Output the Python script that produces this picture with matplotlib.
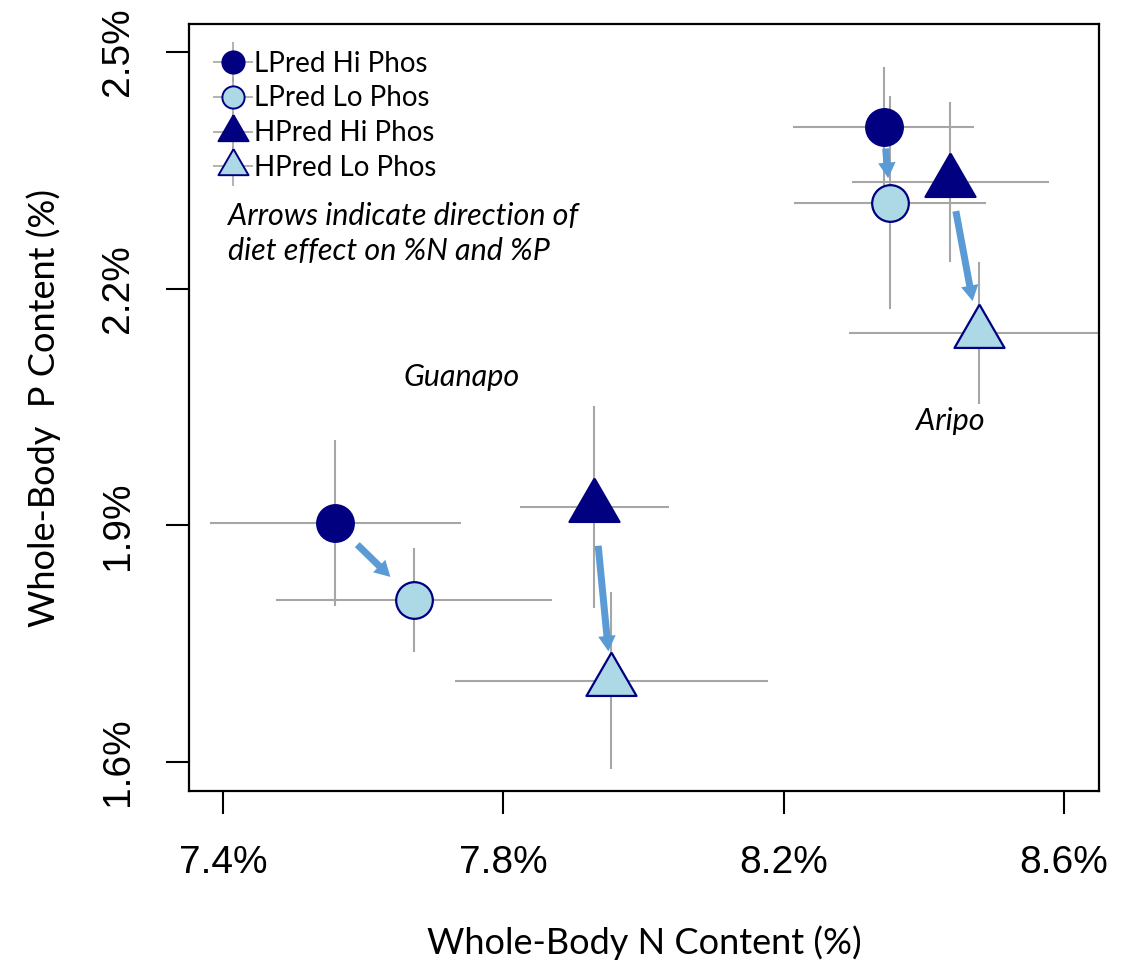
import matplotlib.pyplot as plt
from matplotlib.lines import Line2D
from matplotlib.legend_handler import HandlerTuple

# Whole-body N and P content (%), order: Guanapo, Aripo
sites = ['Guanapo', 'Aripo']

lpred_hi_n = [7.560, 8.343]
lpred_hi_p = [1.903, 2.405]
lpred_hi_n_err = [0.179, 0.129]
lpred_hi_p_err = [0.105, 0.076]

lpred_lo_n = [7.673, 8.352]
lpred_lo_p = [1.805, 2.309]
lpred_lo_n_err = [0.197, 0.137]
lpred_lo_p_err = [0.066, 0.135]

hpred_hi_n = [7.930, 8.438]
hpred_hi_p = [1.923, 2.335]
hpred_hi_n_err = [0.106, 0.141]
hpred_hi_p_err = [0.128, 0.101]

hpred_lo_n = [7.954, 8.478]
hpred_lo_p = [1.703, 2.144]
hpred_lo_n_err = [0.223, 0.185]
hpred_lo_p_err = [0.112, 0.090]

group_labels = ['LPred Hi Phos', 'LPred Lo Phos', 'HPred Hi Phos', 'HPred Lo Phos']
x_ticks = [7.4, 7.8, 8.2, 8.6]
y_ticks = [1.6, 1.9, 2.2, 2.5]

NAVY = '#000080'
LIGHT = '#ADD8E6'
GREY = '#a6a6a6'
ARROW = '#5B9BD5'
TRI = [(0, 1), (-0.866, -0.5), (0.866, -0.5), (0, 1)]

fig = plt.figure(figsize=(11.27, 9.6), dpi=100)
ax = fig.add_axes([0.1677, 0.176, 0.8075, 0.799])

groups = [
    (lpred_hi_n, lpred_hi_p, lpred_hi_n_err, lpred_hi_p_err, 'o', NAVY, 26.4),
    (lpred_lo_n, lpred_lo_p, lpred_lo_n_err, lpred_lo_p_err, 'o', LIGHT, 26.4),
    (hpred_hi_n, hpred_hi_p, hpred_hi_n_err, hpred_hi_p_err, TRI, NAVY, 41.6),
    (hpred_lo_n, hpred_lo_p, hpred_lo_n_err, hpred_lo_p_err, TRI, LIGHT, 41.6),
]

# error bars first, markers on top
for n, p, ne, pe, *_ in groups:
    ax.errorbar(n, p, xerr=ne, yerr=pe, fmt='none', ecolor=GREY,
                elinewidth=1.5, capsize=0, zorder=1)

handles = []
leg_sizes = [16, 16, 25, 25]
for (n, p, ne, pe, mk, fc, ms), lms in zip(groups, leg_sizes):
    ax.plot(n, p, linestyle='none', marker=mk, markersize=ms,
            markerfacecolor=fc, markeredgecolor=NAVY, markeredgewidth=1.6, zorder=3)
    cross = Line2D([], [], linestyle='none', marker='+', markersize=29,
                   markeredgecolor=GREY, markeredgewidth=1.2)
    mark = Line2D([], [], linestyle='none', marker=mk, markersize=lms,
                  markerfacecolor=fc, markeredgecolor=NAVY, markeredgewidth=1.4)
    handles.append((cross, mark))

# diet-effect arrows (Hi Phos -> Lo Phos)
arrow_pairs = [
    (lpred_hi_n, lpred_hi_p, lpred_lo_n, lpred_lo_p, [(22.3, 24.1), (15.6, 17.7)]),
    (hpred_hi_n, hpred_hi_p, hpred_lo_n, hpred_lo_p, [(27.9, 21.2), (21.2, 23.3)]),
]
for n0, p0, n1, p1, shrinks in arrow_pairs:
    for i in range(len(sites)):
        ax.annotate('', xy=(n1[i], p1[i]), xytext=(n0[i], p0[i]),
                    arrowprops=dict(arrowstyle='simple,head_length=0.8,head_width=0.9,tail_width=0.36',
                                    mutation_scale=14, fc=ARROW, ec=ARROW, lw=0,
                                    shrinkA=shrinks[i][0], shrinkB=shrinks[i][1]),
                    zorder=2)

tick_font = {'family': ['Liberation Sans Narrow', 'Liberation Sans'], 'fontsize': 28}
ax.set_xlim(7.3515, 8.650)
ax.set_ylim(1.5632, 2.5355)
ax.set_xticks(x_ticks)
ax.set_yticks(y_ticks)
ax.set_xticklabels([f'{v:.1f}%' for v in x_ticks], **tick_font)
ax.set_yticklabels([f'{v:.1f}%' for v in y_ticks], rotation=90, va='center', **tick_font)
ax.tick_params(axis='both', length=16.5, width=1.5, pad=22)
for s in ax.spines.values():
    s.set_linewidth(1.6)

ax.set_xlabel('Whole-Body N Content (%)', fontsize=26, family='Lato', labelpad=32)
ax.set_ylabel('Whole-Body  P Content (%)', fontsize=26, family='Lato', labelpad=28)

leg = ax.legend(handles, group_labels, handler_map={tuple: HandlerTuple(ndivide=1)},
                loc='upper left', bbox_to_anchor=(0.0, 0.998), frameon=False,
                prop={'family': 'Lato', 'size': 20},
                handlelength=1.4, handletextpad=0.05, labelspacing=0.32,
                borderaxespad=0.5)

ax.text(0.043, 0.768, 'Arrows indicate direction of\ndiet effect on %N and %P',
        transform=ax.transAxes, fontsize=22, family='Lato', style='italic',
        va='top', ha='left', linespacing=1.32)
ax.text(7.741, 2.088, sites[0], fontsize=22, family='Lato', style='italic',
        ha='center', va='center')
ax.text(8.438, 2.032, sites[1], fontsize=22, family='Lato', style='italic',
        ha='center', va='center')

fig.savefig('out.png', dpi=100)
